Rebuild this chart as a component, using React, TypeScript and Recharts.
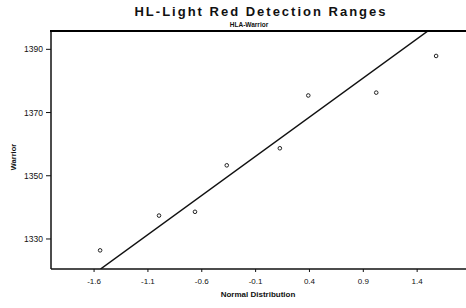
import React from "react";
import {
  ComposedChart,
  Scatter,
  Line,
  XAxis,
  YAxis,
} from "recharts";

// normal quantile (x) vs warrior range (y)
const normalScores = [-1.544, -0.997, -0.663, -0.368, 0.125, 0.389, 1.02, 1.576];
const warriorValues = [1326.4, 1337.4, 1338.6, 1353.3, 1358.7, 1375.4, 1376.3, 1387.9];

// fitted line end points
const fitX = [-1.54, 1.5];
const fitY = [1320.5, 1395.8];

const xTicks = [-1.6, -1.1, -0.6, -0.1, 0.4, 0.9, 1.4];
const yTicks = [1330, 1350, 1370, 1390];
const xDomain = [-2.0, 1.9];
const yDomain = [1320.5, 1395.8];

const points = normalScores.map((x, i) => ({ x, y: warriorValues[i] }));
const fitLine = fitX.map((x, i) => ({ x, y: fitY[i] }));

const font = "'Liberation Sans', Arial, sans-serif";

const Dot = (props: any) => {
  const { cx, cy } = props;
  return <circle cx={cx} cy={cy} r={1.8} fill="none" stroke="#222" strokeWidth={1} />;
};

export default function App() {
  return (
    <div
      style={{
        position: "absolute",
        left: 0,
        top: 0,
        width: 466,
        height: 308,
        overflow: "hidden",
        background: "#fff",
        fontFamily: font,
        color: "#111",
      }}
    >
      {/* titles */}
      <div
        style={{
          position: "absolute",
          left: 0,
          width: 522,
          top: 4,
          textAlign: "center",
          fontSize: 13,
          fontWeight: "bold",
          letterSpacing: 2,
        }}
      >
        HL-Light Red Detection Ranges
      </div>
      <div
        style={{
          position: "absolute",
          left: 0,
          width: 498,
          top: 21,
          textAlign: "center",
          fontSize: 6.5,
          lineHeight: "8px",
          fontWeight: "bold",
        }}
      >
        HLA-Warrior
      </div>

      <ComposedChart
        width={471}
        height={308}
        margin={{ top: 31, right: 0, left: 0, bottom: 0 }}
      >
        <XAxis
          dataKey="x"
          type="number"
          domain={xDomain}
          ticks={xTicks}
          tickFormatter={(v: number) => v.toFixed(1)}
          height={39}
          tickSize={3}
          tickMargin={6}
          allowDataOverflow
          axisLine={{ stroke: "#111", strokeWidth: 1.5 }}
          tickLine={{ stroke: "#111" }}
          tick={{ fill: "#111", fontSize: 8, fontFamily: font }}
        />
        <YAxis
          type="number"
          domain={yDomain}
          ticks={yTicks}
          width={51}
          tickSize={5}
          tickMargin={3}
          allowDataOverflow
          axisLine={{ stroke: "#111", strokeWidth: 1.5 }}
          tickLine={{ stroke: "#111" }}
          tick={{ fill: "#111", fontSize: 8.5, fontFamily: font }}
        />
        <Line
          data={fitLine}
          dataKey="y"
          type="linear"
          stroke="#111"
          strokeWidth={1.5}
          dot={false}
          activeDot={false}
          isAnimationActive={false}
        />
        <Scatter
          data={points}
          dataKey="y"
          shape={<Dot />}
          isAnimationActive={false}
        />
      </ComposedChart>

      {/* top frame of the plot box */}
      <div
        style={{
          position: "absolute",
          left: 50,
          top: 30,
          width: 430,
          height: 2,
          background: "#000",
          zIndex: 2,
        }}
      />

      {/* axis titles */}
      <div
        style={{
          position: "absolute",
          left: 0,
          width: 516,
          top: 290,
          textAlign: "center",
          fontSize: 8,
          fontWeight: "bold",
        }}
      >
        Normal Distribution
      </div>
      <div
        style={{
          position: "absolute",
          left: 13,
          top: 157,
          transform: "translate(-50%, -50%) rotate(-90deg)",
          fontSize: 7.5,
          fontWeight: "bold",
          whiteSpace: "nowrap",
        }}
      >
        Warrior
      </div>
    </div>
  );
}
